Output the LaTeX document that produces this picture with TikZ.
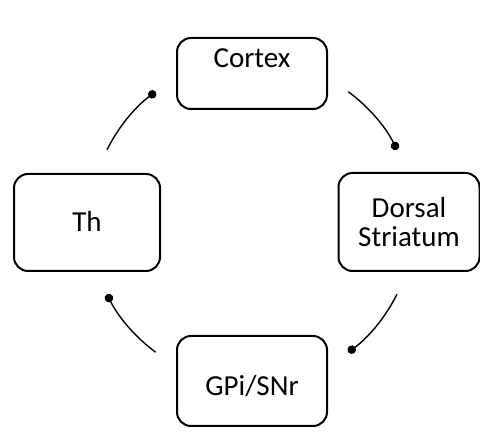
\documentclass[tikz,border=0pt]{standalone}
\usepackage{fontspec}
\setmainfont{Carlito}
\usetikzlibrary{arrows.meta}

\begin{document}
\begin{tikzpicture}[x=1pt,y=1pt,
  region/.style={draw=black, line width=2pt, rounded corners=14pt, inner sep=0pt,
    font=\fontsize{29}{29}\selectfont, align=center},
  link/.style={line width=1.4pt, -{Circle[length=8.5pt]}}]
  \useasboundingbox (0,0) rectangle (480,434);

  % basal ganglia loop regions
  \node[region, anchor=base, minimum width=150pt, text height=30pt, text depth=41pt]
    (cortex) at (252,366) {Cortex};
  \node[region, minimum width=141pt, minimum height=98pt]
    (striatum) at (409,212) {Dorsal\\Striatum};
  \node[region, anchor=base, minimum width=150pt, text height=60pt, text depth=30pt]
    (gpi) at (252,38) {GPi/SNr};
  \node[region, anchor=base, minimum width=146pt, text height=58pt, text depth=39pt]
    (th) at (87,202) {Th};

  % loop arcs around a common centre
  \coordinate (loop) at (252,212);
  \coordinate (a1) at ([shift={(153.5:162)}]loop);
  \coordinate (a2) at ([shift={(53.5:162)}]loop);
  \coordinate (a3) at ([shift={(-26.5:162)}]loop);
  \coordinate (a4) at ([shift={(233.5:162)}]loop);
  \draw[link] (a1) arc[start angle=153.5, end angle=126.5, radius=162];
  \draw[link] (a2) arc[start angle=53.5, end angle=26.5, radius=162];
  \draw[link] (a3) arc[start angle=-26.5, end angle=-53.5, radius=162];
  \draw[link] (a4) arc[start angle=233.5, end angle=206.5, radius=162];
\end{tikzpicture}
\end{document}
